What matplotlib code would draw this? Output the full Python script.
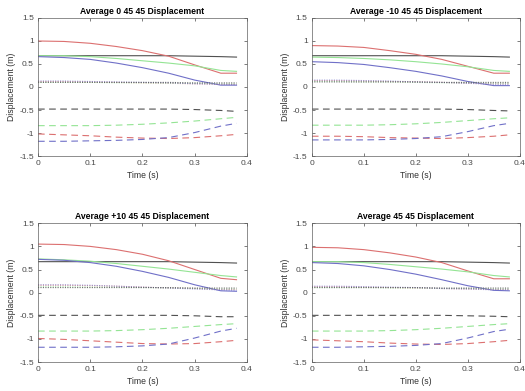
import matplotlib
matplotlib.use('Agg')
import matplotlib.pyplot as plt

plt.rcParams['font.family'] = ['Liberation Sans', 'DejaVu Sans']

t = [0, 0.05, 0.1, 0.15, 0.2, 0.25, 0.3, 0.35, 0.38]

titles = ['Average 0 45 45 Displacement', 'Average -10 45 45 Displacement',
          'Average +10 45 45 Displacement', 'Average 45 45 Displacement']

# solid lines (upper group)
red_solid = [
    [1.00, 0.99, 0.95, 0.88, 0.79, 0.67, 0.48, 0.30, 0.30],
    [0.90, 0.89, 0.86, 0.79, 0.71, 0.60, 0.45, 0.30, 0.30],
    [1.05, 1.04, 1.00, 0.93, 0.83, 0.69, 0.50, 0.31, 0.28],
    [0.98, 0.97, 0.93, 0.86, 0.77, 0.65, 0.47, 0.30, 0.30],
]
green_solid = [
    [0.68, 0.68, 0.66, 0.62, 0.57, 0.52, 0.46, 0.36, 0.34],
    [0.65, 0.64, 0.62, 0.59, 0.55, 0.50, 0.44, 0.36, 0.34],
    [0.73, 0.71, 0.68, 0.63, 0.57, 0.51, 0.44, 0.37, 0.34],
    [0.67, 0.67, 0.65, 0.61, 0.56, 0.51, 0.45, 0.37, 0.34],
]
blue_solid = [
    [0.66, 0.64, 0.60, 0.52, 0.42, 0.30, 0.15, 0.04, 0.04],
    [0.55, 0.53, 0.49, 0.42, 0.34, 0.24, 0.12, 0.03, 0.03],
    [0.72, 0.70, 0.65, 0.57, 0.46, 0.33, 0.17, 0.04, 0.03],
    [0.65, 0.63, 0.58, 0.50, 0.40, 0.28, 0.15, 0.05, 0.04],
]
black_solid = [
    [0.68, 0.68, 0.68, 0.68, 0.68, 0.68, 0.67, 0.66, 0.65],
    [0.68, 0.68, 0.68, 0.68, 0.68, 0.68, 0.67, 0.66, 0.65],
    [0.67, 0.67, 0.67, 0.67, 0.67, 0.67, 0.66, 0.65, 0.64],
    [0.67, 0.67, 0.67, 0.67, 0.67, 0.67, 0.66, 0.65, 0.64],
]

# dotted lines (near zero)
red_dot = [
    [0.12, 0.12, 0.11, 0.10, 0.09, 0.08, 0.07, 0.06, 0.06],
    [0.14, 0.14, 0.13, 0.12, 0.11, 0.10, 0.08, 0.07, 0.07],
    [0.16, 0.16, 0.15, 0.14, 0.12, 0.10, 0.09, 0.07, 0.07],
    [0.13, 0.13, 0.12, 0.11, 0.10, 0.09, 0.08, 0.07, 0.07],
]
green_dot = [
    [0.10, 0.10, 0.10, 0.09, 0.09, 0.08, 0.08, 0.07, 0.07],
    [0.12, 0.12, 0.11, 0.11, 0.10, 0.09, 0.09, 0.08, 0.08],
    [0.13, 0.13, 0.12, 0.12, 0.11, 0.10, 0.09, 0.08, 0.08],
    [0.11, 0.11, 0.11, 0.10, 0.10, 0.09, 0.09, 0.08, 0.08],
]
blue_dot = [
    [0.13, 0.13, 0.12, 0.11, 0.10, 0.09, 0.07, 0.06, 0.05],
    [0.15, 0.15, 0.14, 0.13, 0.11, 0.10, 0.08, 0.06, 0.06],
    [0.17, 0.17, 0.16, 0.14, 0.12, 0.10, 0.08, 0.06, 0.05],
    [0.14, 0.14, 0.13, 0.12, 0.11, 0.09, 0.08, 0.06, 0.06],
]
black_dot = [
    [0.10, 0.10, 0.10, 0.10, 0.10, 0.10, 0.09, 0.09, 0.09],
    [0.11, 0.11, 0.11, 0.11, 0.11, 0.10, 0.10, 0.10, 0.10],
    [0.11, 0.11, 0.11, 0.11, 0.11, 0.11, 0.10, 0.10, 0.10],
    [0.11, 0.11, 0.11, 0.11, 0.11, 0.10, 0.10, 0.10, 0.10],
]

# dashed lines (lower group)
black_dash = [
    [-0.48, -0.48, -0.48, -0.48, -0.48, -0.48, -0.49, -0.51, -0.53],
    [-0.48, -0.48, -0.48, -0.48, -0.48, -0.48, -0.49, -0.51, -0.52],
    [-0.49, -0.49, -0.49, -0.49, -0.49, -0.49, -0.50, -0.52, -0.52],
    [-0.49, -0.49, -0.49, -0.49, -0.49, -0.49, -0.50, -0.51, -0.52],
]
green_dash = [
    [-0.84, -0.84, -0.84, -0.83, -0.81, -0.78, -0.74, -0.69, -0.66],
    [-0.83, -0.83, -0.83, -0.82, -0.80, -0.77, -0.73, -0.69, -0.67],
    [-0.83, -0.83, -0.83, -0.82, -0.80, -0.77, -0.73, -0.69, -0.67],
    [-0.83, -0.83, -0.83, -0.82, -0.80, -0.77, -0.73, -0.69, -0.67],
]
red_dash = [
    [-1.02, -1.04, -1.06, -1.09, -1.11, -1.12, -1.10, -1.06, -1.03],
    [-1.07, -1.07, -1.08, -1.10, -1.11, -1.12, -1.10, -1.07, -1.04],
    [-0.99, -1.01, -1.04, -1.07, -1.10, -1.11, -1.10, -1.06, -1.03],
    [-1.02, -1.04, -1.06, -1.09, -1.11, -1.12, -1.10, -1.06, -1.03],
]
blue_dash = [
    [-1.18, -1.18, -1.17, -1.16, -1.14, -1.10, -0.99, -0.85, -0.79],
    [-1.15, -1.15, -1.15, -1.14, -1.12, -1.08, -0.97, -0.84, -0.79],
    [-1.18, -1.18, -1.18, -1.17, -1.15, -1.11, -0.98, -0.83, -0.77],
    [-1.18, -1.18, -1.17, -1.16, -1.14, -1.10, -0.98, -0.84, -0.79],
]

xticks = [0, 0.1, 0.2, 0.3, 0.4]
xticklabels = ['0', '0.1', '0.2', '0.3', '0.4']
yticks = [-1.5, -1, -0.5, 0, 0.5, 1, 1.5]
yticklabels = ['-1.5', '-1', '-0.5', '0', '0.5', '1', '1.5']

RED = '#dc7070'
GREEN = '#94e494'
BLUE = '#7070c8'
BLACK = '#505050'
DASH = (6, 4)
DOT = (1, 1.2)

fig = plt.figure(figsize=(5.25, 3.91), dpi=100)
positions = [
    [0.0724, 0.601, 0.398, 0.353],
    [0.594, 0.601, 0.396, 0.353],
    [0.0724, 0.074, 0.398, 0.355],
    [0.594, 0.074, 0.396, 0.355],
]

for i in range(4):
    ax = fig.add_axes(positions[i])
    lw = 0.8
    ax.plot(t, black_solid[i], color=BLACK, lw=lw)
    ax.plot(t, red_solid[i], color=RED, lw=lw)
    ax.plot(t, green_solid[i], color=GREEN, lw=lw)
    ax.plot(t, blue_solid[i], color=BLUE, lw=lw)
    ax.plot(t, red_dot[i], color=RED, lw=lw, dashes=DOT, alpha=0.7)
    ax.plot(t, green_dot[i], color=GREEN, lw=lw, dashes=DOT, alpha=0.7)
    ax.plot(t, blue_dot[i], color=BLUE, lw=lw, dashes=DOT, alpha=0.7)
    ax.plot(t, black_dot[i], color=BLACK, lw=lw, dashes=DOT, alpha=0.8)
    ax.plot(t, black_dash[i], color=BLACK, lw=lw, dashes=DASH)
    ax.plot(t, green_dash[i], color=GREEN, lw=lw, dashes=DASH)
    ax.plot(t, red_dash[i], color=RED, lw=lw, dashes=DASH)
    ax.plot(t, blue_dash[i], color=BLUE, lw=lw, dashes=DASH)

    ax.set_xlim(0, 0.4)
    ax.set_ylim(-1.5, 1.5)
    ax.set_xticks(xticks)
    ax.set_xticklabels(xticklabels)
    ax.set_yticks(yticks)
    ax.set_yticklabels(yticklabels)
    ax.tick_params(direction='in', length=2, width=0.5, labelsize=6,
                   colors='#484848', top=True, right=True, pad=3)
    for s in ax.spines.values():
        s.set_linewidth(0.5)
        s.set_color('#606060')
    ax.set_title(titles[i], fontsize=6.2, fontweight='bold', pad=3)
    ax.set_xlabel('Time (s)', fontsize=6.2, color='#303030', labelpad=3)
    ax.set_ylabel('Displacement (m)', fontsize=6.2, color='#303030', labelpad=2)

fig.savefig('out.png', dpi=100)
